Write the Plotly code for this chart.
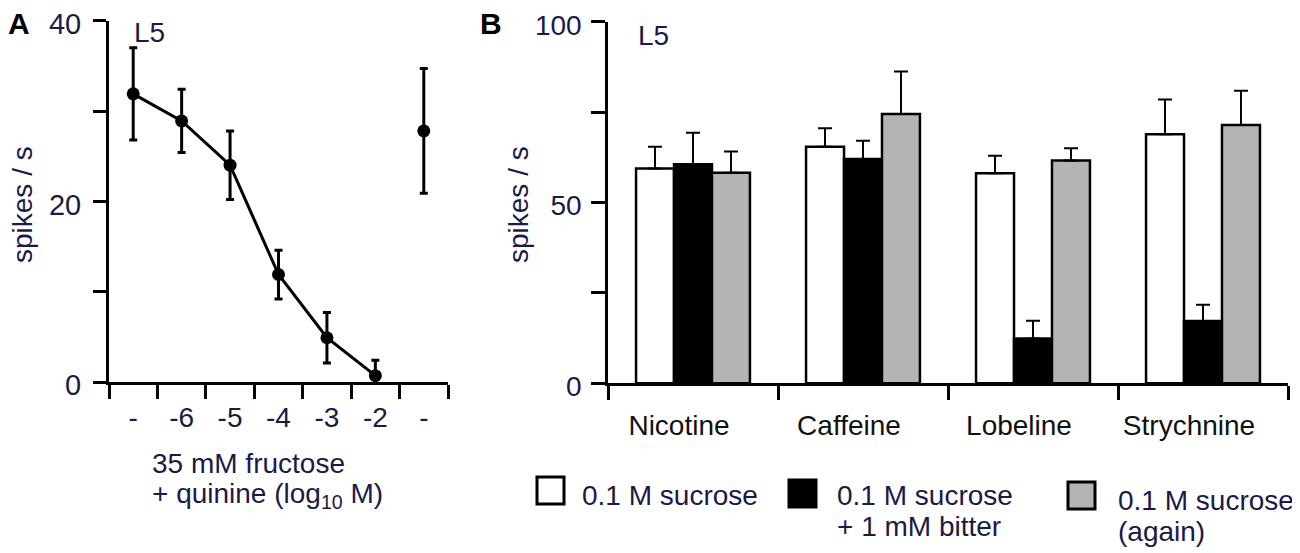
import plotly.graph_objects as go

# the page puts the plot 8 px in from the top-left corner
OFF = 8
W, H = 1300 - OFF, 553 - OFF
NAVY = "#1b1a47"
FONT = "Liberation Sans, Arial, sans-serif"

# panel A: 35 mM fructose + quinine (log10 M), L5 sensillum
quinine_labels = ["-", "-6", "-5", "-4", "-3", "-2", "-"]
quinine_mean = [31.9, 28.9, 24.0, 11.9, 4.9, 0.7]
quinine_err = [5.1, 3.5, 3.8, 2.7, 2.8, 1.7]
rinse_mean = [27.8]
rinse_err = [6.9]

# panel B: 0.1 M sucrose with / without 1 mM bitter
bitters = ["Nicotine", "Caffeine", "Lobeline", "Strychnine"]
sucrose_mean = [59.4, 65.4, 58.1, 68.9]
sucrose_err = [6.0, 5.1, 4.8, 9.6]
bitter_mean = [60.6, 62.0, 12.4, 17.2]
bitter_err = [8.7, 5.1, 4.9, 4.5]
again_mean = [58.2, 74.5, 61.6, 71.4]
again_err = [5.9, 11.7, 3.4, 9.5]

series_names = ["0.1 M sucrose", "0.1 M sucrose<br>+ 1 mM bitter", "0.1 M sucrose<br>(again)"]
series_colors = ["white", "black", "#b4b4b4"]


def px(x):
    return (x - OFF) / W


def py(y):
    return 1 - (y - OFF) / H


fig = go.Figure()

# --- A ---
fig.add_trace(go.Scatter(
    x=list(range(len(quinine_mean))), y=quinine_mean,
    mode="lines+markers",
    line=dict(color="black", width=3),
    marker=dict(color="black", size=13),
    error_y=dict(type="data", array=quinine_err, color="black", thickness=3, width=4),
    cliponaxis=False, showlegend=False, xaxis="x", yaxis="y"))
fig.add_trace(go.Scatter(
    x=[len(quinine_labels) - 1], y=rinse_mean,
    mode="markers",
    marker=dict(color="black", size=13),
    error_y=dict(type="data", array=rinse_err, color="black", thickness=3, width=4),
    cliponaxis=False, showlegend=False, xaxis="x", yaxis="y"))

# --- B ---
for name, col, mean, err in zip(series_names, series_colors,
                                [sucrose_mean, bitter_mean, again_mean],
                                [sucrose_err, bitter_err, again_err]):
    fig.add_trace(go.Bar(
        x=bitters, y=mean, name=name,
        marker=dict(color=col, line=dict(color="black", width=2.5)),
        error_y=dict(type="data", array=err, arrayminus=[0] * len(err), symmetric=False,
                     color="black", thickness=2, width=7),
        showlegend=False, xaxis="x2", yaxis="y2"))

axis_common = dict(showline=True, linecolor="black", showgrid=False, zeroline=False,
                   fixedrange=True, automargin=False, ticklabeloverflow="allow")

fig.update_layout(
    width=W, height=H,
    margin=dict(l=0, r=0, t=0, b=0),
    paper_bgcolor="white", plot_bgcolor="white",
    font=dict(family=FONT, color=NAVY, size=28),
    barmode="group", bargap=0.33, bargroupgap=0,
    xaxis=dict(axis_common, domain=[px(109), px(448)], range=[-0.5, 6.5], anchor="y",
               linewidth=3, tickmode="array",
               tickvals=list(range(len(quinine_labels))), ticktext=quinine_labels,
               ticks="", ticklabelstandoff=8,
               tickfont=dict(size=28, color=NAVY),
               minor=dict(tick0=-0.5, dtick=1, ticks="outside", ticklen=14,
                          tickwidth=3, tickcolor="black")),
    yaxis=dict(axis_common, domain=[py(382), py(20.7)], range=[0, 40], anchor="x",
               linewidth=3, tickmode="array", tickvals=[0, 10, 20, 30, 40],
               ticktext=["0", "", "20", "", "40"],
               ticks="outside", ticklen=13, tickwidth=3, tickcolor="black",
               ticklabelstandoff=6, ticklabelshift=3,
               tickfont=dict(size=29, color=NAVY)),
    xaxis2=dict(axis_common, domain=[px(608), px(1288)], type="category", anchor="y2",
                linewidth=2.5, tickson="boundaries",
                ticks="outside", ticklen=14, tickwidth=2.5, tickcolor="black",
                ticklabelshift=-14, ticklabelstandoff=15,
                tickfont=dict(size=28, color="#111111")),
    yaxis2=dict(axis_common, domain=[py(383.3), py(21.7)], range=[0, 100], anchor="x2",
                linewidth=2.5, tickmode="array", tickvals=[0, 25, 50, 75, 100],
                ticktext=["0", "", "50", "", "100"],
                ticks="outside", ticklen=14, tickwidth=2.5, tickcolor="black",
                ticklabelstandoff=4, ticklabelshift=3,
                tickfont=dict(size=28, color=NAVY)),
)

ann = []


def label(text, x, y, size=28, color=NAVY, xanchor="left", **kw):
    ann.append(dict(text=text, x=px(x), y=py(y), xref="paper", yref="paper",
                    xanchor=xanchor, yanchor="middle", showarrow=False,
                    font=dict(family=FONT, size=size, color=color), **kw))


label("<b>A</b>", 6, 23, size=30, color="black")
label("<b>B</b>", 478, 23, size=30, color="black")
label("L5", 132, 32)
label("L5", 636, 35)
label("spikes / s", 23, 205, xanchor="center", textangle=-90)
label("spikes / s", 519, 205, xanchor="center", textangle=-90)
label("35 mM fructose", 150, 463)
label("+ quinine (log<sub>10</sub> M)", 150, 495)

# legend for panel B
legend_box_x = [537, 789, 1068]
legend_box_y = [477, 480, 482]
legend_text_x = [580, 835, 1116]
legend_text_y = [495, 495, 500]
shapes = []
for i, (name, col) in enumerate(zip(series_names, series_colors)):
    x0, y0 = legend_box_x[i], legend_box_y[i]
    shapes.append(dict(type="rect", xref="paper", yref="paper",
                       x0=px(x0), x1=px(x0 + 27), y0=py(y0), y1=py(y0 + 27),
                       fillcolor=col, line=dict(color="black", width=3)))
    for j, line in enumerate(name.split("<br>")):
        label(line, legend_text_x[i], legend_text_y[i] + 31 * j)

fig.update_layout(annotations=ann, shapes=shapes)

fig.write_html("out.html")
